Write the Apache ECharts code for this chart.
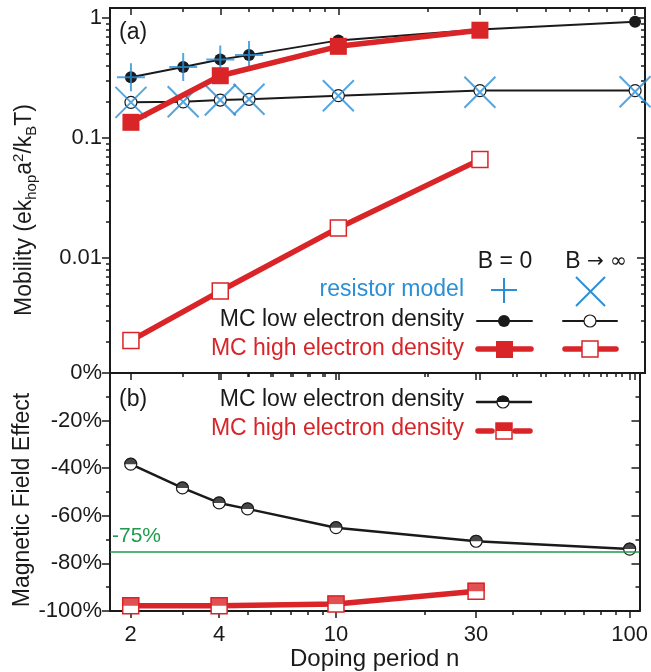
<!DOCTYPE html>
<html>
<head>
<meta charset="utf-8">
<script src="https://cdn.jsdelivr.net/npm/echarts@6/dist/echarts.min.js"></script>
<style>
  html, body { margin: 0; padding: 0; background: #fff; }
  #chart { width: 651px; height: 672px; }
</style>
</head>
<body>
<div id="chart"></div>
<script>
// doping periods
const nLow = [2, 3, 4, 5, 10, 30, 100];
const nHigh = [2, 4, 10, 30];
const nResB0 = [2, 3, 4, 5];

// panel (a) mobility
const lowB0 = [0.32, 0.39, 0.45, 0.49, 0.65, 0.80, 0.93];
const lowBinf = [0.198, 0.20, 0.207, 0.21, 0.225, 0.248, 0.248];
const resB0 = [0.32, 0.39, 0.45, 0.49];
const resBinf = [0.198, 0.20, 0.207, 0.21, 0.225, 0.24, 0.243];
const highB0 = [0.135, 0.33, 0.58, 0.79];
const highBinf = [0.00205, 0.0053, 0.0178, 0.066];

// panel (b) magnetic field effect, %
const effLow = [-38.3, -48.3, -54.6, -57.1, -65, -70.7, -74];
const effHigh = [-97.8, -97.8, -97.1, -91.7];
const effLimit = -75;

// ticks
const xTickMajor = [2, 4, 10, 30, 100];
const xTickMinor = [3, 5, 6, 7, 8, 9, 20, 40, 50, 60, 70, 80, 90];
const yTickMajorA = [0.01, 0.1, 1];
const yTickMinorA = [0.002, 0.003, 0.004, 0.005, 0.006, 0.007, 0.008, 0.009,
  0.02, 0.03, 0.04, 0.05, 0.06, 0.07, 0.08, 0.09,
  0.2, 0.3, 0.4, 0.5, 0.6, 0.7, 0.8, 0.9];

const FONT = 'Liberation Sans, Arial, sans-serif';
const BLACK = '#1a1a1a';
const RED = '#d92428';
const BLUE = '#2b8fd6';
const GREEN = '#1f9a4c';

const pairs = (xs, ys) => xs.map((x, i) => [x, ys[i]]);

const chart = echarts.init(document.getElementById('chart'), null, { renderer: 'canvas' });

const xAx = (grid, pos, inside, len, ticks, labels) => ({
  type: 'log', logBase: 10, min: 1.7, max: 108, gridIndex: grid, position: pos,
  axisLine: { show: true, onZero: false, lineStyle: { color: BLACK, width: 2 } },
  axisTick: { show: true, inside: inside, length: len, customValues: ticks, lineStyle: { color: BLACK, width: 1.5 } },
  axisLabel: labels ? { show: true, customValues: ticks, margin: 13, fontSize: 22, fontFamily: FONT, color: BLACK } : { show: false },
  splitLine: { show: false }
});

const yLogAx = (pos, inside, len, ticks, labels) => ({
  type: 'log', logBase: 10, min: 0.0011, max: 1.21, gridIndex: 0, position: pos,
  axisLine: { show: true, lineStyle: { color: BLACK, width: 2 } },
  axisTick: { show: true, inside: inside, length: len, customValues: ticks, lineStyle: { color: BLACK, width: 1.5 } },
  axisLabel: labels ? { show: true, customValues: ticks, margin: 8, fontSize: 22, fontFamily: FONT, color: BLACK } : { show: false },
  splitLine: { show: false }
});

const yPctAx = (pos, inside, labels) => ({
  type: 'value', min: -100, max: 0, interval: 20, gridIndex: 1, position: pos,
  axisLine: { show: true, lineStyle: { color: BLACK, width: 2 } },
  axisTick: { show: true, inside: inside, length: 8, lineStyle: { color: BLACK, width: 1.5 } },
  minorTick: { show: true, splitNumber: 2, length: 4, lineStyle: { color: BLACK, width: 1.5 } },
  axisLabel: labels ? { show: true, margin: 8, fontSize: 22, fontFamily: FONT, color: BLACK, formatter: '{value}%' } : { show: false },
  splitLine: { show: false }
});

const semiCircle = 'path://M0,10 C0,4.48 4.48,0 10,0 C15.52,0 20,4.48 20,10 Z';
const plusPath = 'path://M10,0 L10,20 M0,10 L20,10';
const crossPath = 'path://M0,0 L20,20 M20,0 L0,20';

const txt = (x, y, text, color, align, size) => ({
  type: 'text', x: x, y: y,
  style: { text: text, fill: color, font: (size || 23) + 'px ' + FONT, align: align || 'left', verticalAlign: 'middle' }
});
const seg = (x1, x2, y, color, w) => ({
  type: 'line', shape: { x1: x1, y1: y, x2: x2, y2: y }, style: { stroke: color, lineWidth: w, lineCap: 'round' }
});

const option = {
  animation: false,
  backgroundColor: '#fff',
  grid: [
    { left: 110, top: 8, width: 535, height: 365 },
    { left: 110, top: 373, width: 535, height: 240 }
  ],
  xAxis: [
    xAx(0, 'bottom', false, 7, xTickMajor, false),
    xAx(0, 'bottom', false, 4, xTickMinor, false),
    xAx(0, 'top', true, 7, xTickMajor, false),
    xAx(0, 'top', true, 4, xTickMinor, false),
    Object.assign(xAx(1, 'bottom', false, 7, xTickMajor, true), {
      name: 'Doping period n', nameLocation: 'middle', nameGap: 36,
      nameTextStyle: { fontSize: 24, fontFamily: FONT, color: BLACK }
    }),
    xAx(1, 'bottom', false, 4, xTickMinor, false),
    xAx(1, 'top', true, 7, xTickMajor, false),
    xAx(1, 'top', true, 4, xTickMinor, false)
  ],
  yAxis: [
    yLogAx('left', false, 8, yTickMajorA, true),
    yLogAx('left', false, 4, yTickMinorA, false),
    yLogAx('right', true, 8, yTickMajorA, false),
    yLogAx('right', true, 4, yTickMinorA, false),
    yPctAx('left', false, true),
    yPctAx('right', true, false)
  ],
  graphic: [
    {
      type: 'text', x: 25, y: 210, rotation: Math.PI / 2,
      style: {
        text: '{n|Mobility (ek}{s|hop}{n|a}{p|2}{n|/k}{s|B}{n|T)}',
        fill: BLACK, align: 'center', verticalAlign: 'middle',
        rich: {
          n: { fontSize: 23, fontFamily: FONT, lineHeight: 28, fill: BLACK },
          s: { fontSize: 15, fontFamily: FONT, lineHeight: 12, verticalAlign: 'bottom', fill: BLACK },
          p: { fontSize: 15, fontFamily: FONT, lineHeight: 20, verticalAlign: 'top', fill: BLACK }
        }
      }
    },
    {
      type: 'text', x: 23, y: 500, rotation: Math.PI / 2,
      style: { text: 'Magnetic Field Effect', fill: BLACK, font: '23px ' + FONT, align: 'center', verticalAlign: 'middle' }
    },
    txt(119, 33, '(a)', BLACK),
    txt(119, 400, '(b)', BLACK),

    // panel (a) legend
    txt(505, 262, 'B = 0', BLACK, 'center'),
    {
      type: 'text', x: 596, y: 262,
      style: {
        text: '{n|B }{m|→ ∞}', align: 'center', verticalAlign: 'middle',
        rich: { n: { fontSize: 23, fontFamily: FONT, fill: BLACK }, m: { fontSize: 20, fontFamily: 'DejaVu Sans, sans-serif', fill: BLACK } }
      }
    },
    txt(464, 290, 'resistor model', BLUE, 'right'),
    txt(464, 320, 'MC low electron density', BLACK, 'right'),
    txt(464, 349, 'MC high electron density', RED, 'right'),
    { type: 'polyline', shape: { points: [[504, 278], [504, 303]] }, style: { stroke: BLUE, lineWidth: 2 } },
    { type: 'polyline', shape: { points: [[491, 290], [517, 290]] }, style: { stroke: BLUE, lineWidth: 2 } },
    { type: 'polyline', shape: { points: [[576, 277], [605, 306]] }, style: { stroke: BLUE, lineWidth: 2 } },
    { type: 'polyline', shape: { points: [[605, 277], [576, 306]] }, style: { stroke: BLUE, lineWidth: 2 } },
    seg(477, 532, 321, BLACK, 2),
    { type: 'circle', shape: { cx: 504, cy: 321, r: 6 }, style: { fill: BLACK } },
    seg(563, 617, 321, BLACK, 2),
    { type: 'circle', shape: { cx: 590, cy: 321, r: 6 }, style: { fill: '#fff', stroke: BLACK, lineWidth: 1.2 } },
    seg(478, 531, 349, RED, 5.5),
    { type: 'rect', shape: { x: 496, y: 341, width: 17, height: 17 }, style: { fill: RED } },
    seg(565, 616, 349, RED, 5.5),
    { type: 'rect', shape: { x: 582, y: 341, width: 16, height: 16 }, style: { fill: '#fff', stroke: RED, lineWidth: 1.5 } },

    // panel (b) legend
    txt(464, 400, 'MC low electron density', BLACK, 'right'),
    txt(464, 429, 'MC high electron density', RED, 'right'),
    seg(477, 531, 402, BLACK, 2.5),
    { type: 'circle', shape: { cx: 503, cy: 402, r: 6 }, style: { fill: '#fff', stroke: BLACK, lineWidth: 1.2 } },
    { type: 'sector', shape: { cx: 503, cy: 402, r0: 0, r: 6.6, startAngle: Math.PI, endAngle: Math.PI * 2, clockwise: true }, style: { fill: BLACK } },
    seg(478, 492, 431, RED, 5.5),
    seg(515, 530, 431, RED, 5.5),
    { type: 'rect', shape: { x: 496, y: 423, width: 16, height: 16 }, style: { fill: '#fff', stroke: RED, lineWidth: 1.5 } },
    { type: 'rect', shape: { x: 496, y: 423, width: 16, height: 8 }, style: { fill: RED } }
  ],
  series: [
    {
      name: 'low B inf', type: 'line', xAxisIndex: 0, yAxisIndex: 0, z: 2,
      data: pairs(nLow, lowBinf),
      lineStyle: { color: BLACK, width: 2 },
      symbol: 'circle', symbolSize: 12,
      itemStyle: { color: '#fff', borderColor: BLACK, borderWidth: 1.2 }
    },
    {
      name: 'low B0', type: 'line', xAxisIndex: 0, yAxisIndex: 0, z: 2,
      data: pairs(nLow, lowB0),
      lineStyle: { color: BLACK, width: 2 },
      symbol: 'circle', symbolSize: 12,
      itemStyle: { color: BLACK, borderWidth: 0 }
    },
    {
      name: 'resistor B inf', type: 'scatter', xAxisIndex: 0, yAxisIndex: 0, z: 3,
      data: pairs(nLow, resBinf),
      symbol: crossPath, symbolSize: 31,
      itemStyle: { color: 'transparent', borderColor: BLUE, borderWidth: 2 }
    },
    {
      name: 'resistor B0', type: 'scatter', xAxisIndex: 0, yAxisIndex: 0, z: 3,
      data: pairs(nResB0, resB0),
      symbol: plusPath, symbolSize: 28,
      itemStyle: { color: 'transparent', borderColor: BLUE, borderWidth: 2 }
    },
    {
      name: 'high B inf', type: 'line', xAxisIndex: 0, yAxisIndex: 0, z: 4,
      data: pairs(nHigh, highBinf),
      lineStyle: { color: RED, width: 5.5 },
      symbol: 'rect', symbolSize: 16,
      itemStyle: { color: '#fff', borderColor: RED, borderWidth: 1.5 }
    },
    {
      name: 'high B0', type: 'line', xAxisIndex: 0, yAxisIndex: 0, z: 4,
      data: pairs(nHigh, highB0),
      lineStyle: { color: RED, width: 5.5 },
      symbol: 'rect', symbolSize: 17,
      itemStyle: { color: RED, borderWidth: 0 }
    },
    {
      name: 'effect low', type: 'line', xAxisIndex: 4, yAxisIndex: 4, z: 2,
      data: pairs(nLow, effLow),
      lineStyle: { color: BLACK, width: 2.5 },
      symbol: 'circle', symbolSize: 12,
      itemStyle: { color: '#fff', borderColor: BLACK, borderWidth: 1.2 },
      markLine: {
        silent: true, symbol: 'none',
        lineStyle: { color: GREEN, width: 1.5, type: 'solid' },
        label: { show: true, position: 'insideStartTop', formatter: '-75%', color: GREEN, fontSize: 21, fontFamily: FONT, distance: [2, 5] },
        data: [{ yAxis: effLimit }]
      }
    },
    {
      name: 'effect low top', type: 'scatter', xAxisIndex: 4, yAxisIndex: 4, z: 3,
      data: pairs(nLow, effLow),
      symbol: semiCircle, symbolSize: [13, 6.5], symbolOffset: [0, -3.25],
      itemStyle: { color: BLACK }
    },
    {
      name: 'effect high', type: 'line', xAxisIndex: 4, yAxisIndex: 4, z: 4,
      data: pairs(nHigh, effHigh),
      lineStyle: { color: RED, width: 5.5 },
      symbol: 'rect', symbolSize: 16,
      itemStyle: { color: '#fff', borderColor: RED, borderWidth: 1.5 }
    },
    {
      name: 'effect high top', type: 'scatter', xAxisIndex: 4, yAxisIndex: 4, z: 5,
      data: pairs(nHigh, effHigh),
      symbol: 'rect', symbolSize: [17, 8.5], symbolOffset: [0, -4.25],
      itemStyle: { color: RED }
    }
  ]
};

chart.setOption(option);
</script>
</body>
</html>
